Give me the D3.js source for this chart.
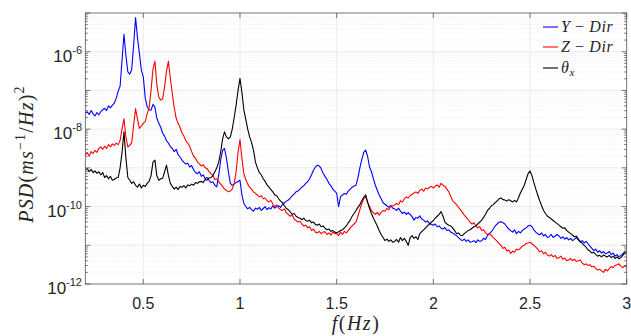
<!DOCTYPE html>
<html>
<head>
<meta charset="utf-8">
<script src="https://cdn.jsdelivr.net/npm/d3@7"></script>
<style>
  body { margin: 0; background: #fff; }
  svg text { font-family: "Liberation Sans", Arial, sans-serif; fill: #262626; }
  .math { font-family: "Liberation Serif", "DejaVu Serif", serif; font-style: italic; }
</style>
</head>
<body>
<svg id="chart" width="631" height="336"></svg>
<script>
// frequency grid of the spectra, 0.20 .. 3.00 Hz in 0.01 Hz steps
const freq = d3.range(20, 301).map(i => i / 100);

// log10 of PSD (one row = 0.1 Hz)
const yDirLog10 = [
  -7.59, -7.55, -7.62, -7.52, -7.60, -7.66, -7.57, -7.63, -7.55, -7.50,
  -7.46, -7.52, -7.40, -7.45, -7.38, -7.33, -7.20, -7.02, -6.89, -6.22,
  -5.55, -6.09, -6.52, -6.58, -6.46, -5.83, -5.12, -5.65, -6.05, -6.48,
  -6.65, -7.20, -7.42, -7.50, -7.51, -7.36, -7.43, -7.72, -7.85, -7.95,
  -8.10, -8.18, -8.30, -8.36, -8.45, -8.50, -8.58, -8.52, -8.66, -8.72,
  -8.80, -8.86, -8.90, -8.88, -8.98, -8.94, -9.05, -9.12, -9.15, -9.10,
  -9.22, -9.18, -9.28, -9.25, -9.32, -9.38, -9.36, -9.45, -9.49, -9.19,
  -8.80, -8.55, -8.50, -8.75, -9.10, -9.40, -9.45, -9.42, -9.38, -9.35,
  -9.32, -9.70, -9.92, -10.00, -10.06, -10.02, -10.08, -10.12, -10.04, -10.07,
  -10.02, -10.10, -10.05, -10.00, -10.08, -10.03, -10.06, -9.98, -10.04, -10.00,
  -9.98, -10.02, -9.94, -9.90, -9.86, -9.83, -9.78, -9.72, -9.68, -9.62,
  -9.60, -9.55, -9.50, -9.46, -9.40, -9.36, -9.28, -9.18, -9.06, -8.98,
  -8.93, -8.95, -9.02, -9.14, -9.22, -9.30, -9.40, -9.46, -9.55, -9.60,
  -9.65, -10.00, -9.75, -9.70, -9.66, -9.68, -9.60, -9.55, -9.50, -9.47,
  -9.45, -9.25, -9.00, -8.78, -8.60, -8.54, -8.70, -8.98, -9.10, -9.28,
  -9.45, -9.58, -9.70, -9.80, -9.90, -9.94, -9.98, -10.02, -9.97, -10.04,
  -10.06, -10.10, -10.04, -10.12, -10.18, -10.14, -10.20, -10.16, -10.20, -10.26,
  -10.35, -10.28, -10.30, -10.24, -10.32, -10.35, -10.40, -10.37, -10.44, -10.46,
  -10.48, -10.45, -10.52, -10.50, -10.56, -10.58, -10.54, -10.62, -10.60, -10.66,
  -10.68, -10.72, -10.75, -10.80, -10.85, -10.88, -10.84, -10.90, -10.86, -10.92,
  -10.91, -10.88, -10.93, -10.86, -10.90, -10.88, -10.82, -10.85, -10.75, -10.70,
  -10.65, -10.58, -10.50, -10.45, -10.40, -10.39, -10.42, -10.45, -10.52, -10.58,
  -10.62, -10.66, -10.60, -10.70, -10.64, -10.68, -10.62, -10.58, -10.55, -10.50,
  -10.48, -10.52, -10.60, -10.66, -10.70, -10.73, -10.68, -10.76, -10.72, -10.80,
  -10.78, -10.72, -10.80, -10.76, -10.72, -10.76, -10.82, -10.78, -10.84, -10.80,
  -10.86, -10.82, -10.88, -10.84, -10.80, -10.86, -10.92, -10.88, -10.94, -10.90,
  -10.96, -11.02, -11.08, -11.14, -11.10, -11.18, -11.14, -11.20, -11.16, -11.22,
  -11.20, -11.16, -11.24, -11.20, -11.28, -11.24, -11.30, -11.26, -11.22, -11.16,
  -11.18
];

const zDirLog10 = [
  -8.67, -8.60, -8.70, -8.58, -8.63, -8.55, -8.60, -8.50, -8.46, -8.52,
  -8.44, -8.50, -8.40, -8.46, -8.38, -8.42, -8.36, -8.40, -8.29, -8.00,
  -7.73, -8.20, -8.46, -8.42, -8.35, -7.90, -7.47, -7.75, -7.98, -7.92,
  -7.85, -7.80, -7.60, -7.45, -7.00, -6.45, -6.25, -6.85, -7.17, -7.25,
  -7.22, -6.90, -6.50, -6.25, -6.70, -7.08, -7.45, -7.72, -7.85, -7.95,
  -8.10, -8.18, -8.30, -8.36, -8.45, -8.58, -8.70, -8.75, -8.85, -8.90,
  -8.95, -8.92, -9.00, -9.02, -9.10, -9.15, -9.20, -9.30, -9.28, -9.36,
  -9.42, -9.48, -9.55, -9.58, -9.62, -9.60, -9.55, -9.40, -9.10, -8.60,
  -8.27, -8.75, -9.15, -9.30, -9.42, -9.50, -9.55, -9.62, -9.66, -9.70,
  -9.75, -9.72, -9.80, -9.78, -9.85, -9.88, -9.84, -9.94, -10.00, -9.96,
  -10.04, -10.08, -10.10, -10.06, -10.16, -10.20, -10.25, -10.22, -10.32, -10.36,
  -10.40, -10.38, -10.45, -10.50, -10.48, -10.55, -10.52, -10.62, -10.58, -10.66,
  -10.68, -10.64, -10.70, -10.66, -10.65, -10.72, -10.68, -10.74, -10.66, -10.70,
  -10.69, -10.75, -10.66, -10.72, -10.64, -10.68, -10.62, -10.55, -10.50, -10.45,
  -10.40, -10.25, -10.08, -9.92, -9.80, -9.75, -9.90, -10.00, -10.10, -10.16,
  -10.20, -10.15, -10.22, -10.15, -10.10, -10.12, -10.05, -10.08, -10.00, -9.98,
  -9.96, -9.92, -9.95, -9.85, -9.88, -9.80, -9.75, -9.78, -9.72, -9.68,
  -9.65, -9.62, -9.66, -9.58, -9.55, -9.60, -9.52, -9.55, -9.50, -9.48,
  -9.52, -9.47, -9.44, -9.50, -9.40, -9.45, -9.48, -9.55, -9.62, -9.74,
  -9.85, -9.90, -9.95, -10.02, -10.08, -10.15, -10.22, -10.28, -10.34, -10.40,
  -10.45, -10.42, -10.50, -10.55, -10.52, -10.62, -10.60, -10.68, -10.72, -10.70,
  -10.74, -10.80, -10.85, -10.90, -10.95, -11.00, -11.08, -11.05, -11.15, -11.12,
  -11.21, -11.15, -11.18, -11.10, -11.12, -11.08, -11.02, -11.00, -10.95, -10.94,
  -10.92, -10.96, -11.00, -11.05, -11.10, -11.17, -11.14, -11.22, -11.18, -11.25,
  -11.28, -11.24, -11.30, -11.26, -11.34, -11.32, -11.28, -11.36, -11.33, -11.40,
  -11.38, -11.34, -11.40, -11.36, -11.42, -11.40, -11.38, -11.46, -11.50, -11.48,
  -11.52, -11.50, -11.56, -11.54, -11.60, -11.64, -11.62, -11.66, -11.70, -11.62,
  -11.66, -11.60, -11.55, -11.58, -11.52, -11.50, -11.48, -11.54, -11.58, -11.52,
  -11.58
];

const thetaXLog10 = [
  -9.06, -9.02, -9.10, -9.04, -9.12, -9.08, -9.14, -9.10, -9.18, -9.12,
  -9.25, -9.20, -9.28, -9.22, -9.32, -9.30, -9.26, -9.25, -9.00, -8.60,
  -8.07, -8.75, -9.25, -9.32, -9.40, -9.36, -9.45, -9.50, -9.42, -9.52,
  -9.45, -9.48, -9.40, -9.35, -9.20, -8.85, -8.80, -9.20, -9.32, -9.28,
  -9.27, -9.10, -8.93, -9.20, -9.40, -9.48, -9.55, -9.50, -9.56, -9.48,
  -9.50, -9.46, -9.52, -9.44, -9.46, -9.42, -9.45, -9.38, -9.40, -9.36,
  -9.35, -9.38, -9.30, -9.32, -9.26, -9.25, -9.20, -9.10, -9.00, -8.85,
  -8.60, -8.25, -8.07, -8.20, -8.25, -8.20, -8.00, -7.70, -7.38, -7.00,
  -6.69, -7.05, -7.50, -7.75, -8.00, -8.20, -8.35, -8.55, -8.85, -9.00,
  -9.12, -9.18, -9.28, -9.35, -9.44, -9.50, -9.56, -9.62, -9.70, -9.72,
  -9.80, -9.86, -9.90, -9.98, -10.05, -10.08, -10.14, -10.20, -10.18, -10.25,
  -10.28, -10.30, -10.34, -10.30, -10.36, -10.38, -10.35, -10.42, -10.40, -10.46,
  -10.48, -10.45, -10.52, -10.50, -10.56, -10.60, -10.58, -10.64, -10.62, -10.66,
  -10.68, -10.65, -10.62, -10.60, -10.55, -10.50, -10.42, -10.35, -10.25, -10.18,
  -10.10, -10.02, -9.95, -9.85, -9.76, -9.70, -9.88, -10.05, -10.18, -10.30,
  -10.40, -10.50, -10.62, -10.72, -10.80, -10.88, -10.84, -10.90, -10.86, -10.92,
  -10.90, -10.85, -10.92, -10.80, -10.88, -10.82, -10.90, -11.00, -10.80, -10.75,
  -10.82, -10.78, -10.85, -10.70, -10.65, -10.60, -10.55, -10.50, -10.45, -10.40,
  -10.36, -10.30, -10.25, -10.20, -10.13, -10.25, -10.40, -10.45, -10.48, -10.50,
  -10.55, -10.62, -10.70, -10.68, -10.74, -10.75, -10.70, -10.66, -10.62, -10.60,
  -10.56, -10.52, -10.50, -10.45, -10.40, -10.35, -10.28, -10.20, -10.10, -10.05,
  -9.98, -9.95, -9.90, -9.85, -9.80, -9.78, -9.82, -9.83, -9.86, -9.82,
  -9.85, -9.88, -9.84, -9.88, -9.78, -9.65, -9.55, -9.45, -9.30, -9.15,
  -9.08, -9.20, -9.38, -9.55, -9.70, -9.85, -9.98, -10.10, -10.18, -10.25,
  -10.28, -10.32, -10.36, -10.40, -10.44, -10.48, -10.52, -10.56, -10.55, -10.62,
  -10.66, -10.70, -10.74, -10.78, -10.76, -10.84, -10.90, -10.95, -11.00, -11.05,
  -11.12, -11.15, -11.20, -11.18, -11.24, -11.28, -11.26, -11.30, -11.25, -11.28,
  -11.30, -11.26, -11.32, -11.28, -11.34, -11.30, -11.35, -11.32, -11.26, -11.20,
  -11.20
];

const xTicks = [0.5, 1, 1.5, 2, 2.5, 3];
const yLabelExps = [-12, -10, -8, -6];
const decadeExps = [-12, -11, -10, -9, -8, -7, -6];

const series = [
  { key: "Y", color: "#0000ff", values: yDirLog10 },
  { key: "Z", color: "#ff0000", values: zDirLog10 },
  { key: "theta", color: "#000000", values: thetaXLog10 }
];

const svg = d3.select("#chart");
const plotL = 85.3, plotR = 626.7, plotT = 13, plotB = 284;

const x = d3.scaleLinear().domain([0.2, 3]).range([plotL, plotR]);
const y = d3.scaleLog().domain([1e-12, 1e-5]).range([plotB, plotT]);

// grid
const grid = svg.append("g");
decadeExps.forEach(e => {
  for (let m = 2; m <= 9; m++) {
    const yy = y(m * Math.pow(10, e));
    grid.append("line").attr("x1", plotL).attr("x2", plotR).attr("y1", yy).attr("y2", yy)
      .attr("stroke", "#e3e3e3").attr("stroke-width", 0.6).attr("stroke-dasharray", "1,1.5");
  }
  if (e > -12) {
    const yy = y(Math.pow(10, e));
    grid.append("line").attr("x1", plotL).attr("x2", plotR).attr("y1", yy).attr("y2", yy)
      .attr("stroke", "#e6e6e6").attr("stroke-width", 0.8);
  }
});
xTicks.filter(t => t < 3).forEach(t => {
  grid.append("line").attr("x1", x(t)).attr("x2", x(t)).attr("y1", plotT).attr("y2", plotB)
    .attr("stroke", "#e6e6e6").attr("stroke-width", 0.8);
});

// lines
svg.append("clipPath").attr("id", "plotclip").append("rect")
  .attr("x", plotL).attr("y", plotT).attr("width", plotR - plotL).attr("height", plotB - plotT);

const line = d3.line()
  .x((d, i) => x(freq[i]))
  .y(d => y(Math.pow(10, d)));

svg.append("g").attr("clip-path", "url(#plotclip)")
  .selectAll("path").data(series).join("path")
  .attr("d", d => line(d.values))
  .attr("fill", "none")
  .attr("stroke", d => d.color)
  .attr("stroke-width", 1.1)
  .attr("stroke-linejoin", "round");

// axes frame and ticks
const axisColor = "#555";
svg.append("rect").attr("x", plotL).attr("y", plotT).attr("width", plotR - plotL).attr("height", plotB - plotT)
  .attr("fill", "none").attr("stroke", axisColor).attr("stroke-width", 0.8);

const ticks = svg.append("g").attr("stroke", axisColor).attr("stroke-width", 0.8);
xTicks.forEach(t => {
  ticks.append("line").attr("x1", x(t)).attr("x2", x(t)).attr("y1", plotB).attr("y2", plotB - 5);
  ticks.append("line").attr("x1", x(t)).attr("x2", x(t)).attr("y1", plotT).attr("y2", plotT + 5);
});
decadeExps.concat([-5]).forEach(e => {
  const yy = y(Math.pow(10, e));
  ticks.append("line").attr("x1", plotL).attr("x2", plotL + 5).attr("y1", yy).attr("y2", yy);
  ticks.append("line").attr("x1", plotR).attr("x2", plotR - 5).attr("y1", yy).attr("y2", yy);
  if (e < -5) {
    for (let m = 2; m <= 9; m++) {
      const ym = y(m * Math.pow(10, e));
      ticks.append("line").attr("x1", plotL).attr("x2", plotL + 2.5).attr("y1", ym).attr("y2", ym);
      ticks.append("line").attr("x1", plotR).attr("x2", plotR - 2.5).attr("y1", ym).attr("y2", ym);
    }
  }
});

// tick labels
svg.append("g").selectAll("text").data(xTicks).join("text")
  .attr("x", d => x(d)).attr("y", 309)
  .attr("text-anchor", "middle").attr("font-size", 16)
  .text(d => d3.format("")(d));

const yl = svg.append("g").selectAll("text").data(yLabelExps).join("text")
  .attr("x", 82).attr("y", d => y(Math.pow(10, d)) + 10)
  .attr("text-anchor", "end").attr("font-size", 17);
yl.append("tspan").text("10");
yl.append("tspan").attr("font-size", 11).attr("dy", -8).text(d => "-" + Math.abs(d));

// axis titles
const xt = svg.append("text").attr("class", "math").attr("x", (plotL + plotR) / 2).attr("y", 330)
  .attr("text-anchor", "middle").attr("font-size", 20).attr("letter-spacing", 1.5);
xt.append("tspan").text("f");
xt.append("tspan").attr("font-style", "normal").text("(");
xt.append("tspan").text("Hz");
xt.append("tspan").attr("font-style", "normal").text(")");

const yt = svg.append("text").attr("class", "math")
  .attr("transform", "translate(33,154) rotate(-90)")
  .attr("text-anchor", "middle").attr("font-size", 20).attr("letter-spacing", 1.2);
yt.append("tspan").text("PSD");
yt.append("tspan").attr("font-style", "normal").text("(");
yt.append("tspan").text("ms");
yt.append("tspan").attr("font-size", 14).attr("dy", -8).attr("font-style", "normal").text("−1");
yt.append("tspan").attr("dy", 8).attr("font-style", "normal").text("/");
yt.append("tspan").text("Hz");
yt.append("tspan").attr("font-style", "normal").text(")");
yt.append("tspan").attr("font-size", 14).attr("dy", -9).attr("font-style", "normal").text("2");

// legend
const legendY = [27, 47, 68];
const lg = svg.append("g");
series.forEach((s, i) => {
  lg.append("line").attr("x1", 543).attr("x2", 558).attr("y1", legendY[i]).attr("y2", legendY[i])
    .attr("stroke", s.color).attr("stroke-width", 1.1);
  const t = lg.append("text").attr("class", "math").attr("x", 561).attr("y", legendY[i] + 5)
    .attr("font-size", 16).attr("letter-spacing", 0.6);
  if (s.key === "theta") {
    t.append("tspan").text("θ");
    t.append("tspan").attr("font-size", 11).attr("dy", 3).text("x");
  } else {
    t.append("tspan").text(s.key);
    t.append("tspan").attr("font-style", "normal").text(" − ");
    t.append("tspan").text("Dir");
  }
});
</script>
</body>
</html>
